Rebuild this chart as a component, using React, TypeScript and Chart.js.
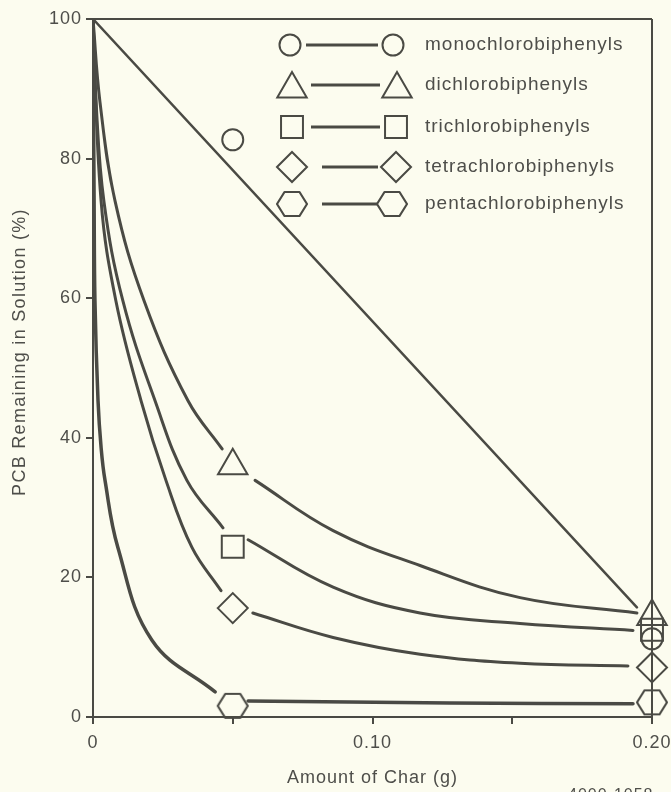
import React, { useEffect, useRef } from 'react';
import { Chart, registerables } from 'chart.js';

Chart.register(...registerables);

// ---------- data ----------
const seriesNames = [
  'monochlorobiphenyls',
  'dichlorobiphenyls',
  'trichlorobiphenyls',
  'tetrachlorobiphenyls',
  'pentachlorobiphenyls',
];
const markerX = [0.05, 0.2];
const monoMarks = [82.7, 11.2];
const diMarks = [36.0, 14.4];
const triMarks = [24.4, 12.5];
const tetraMarks = [15.6, 7.1];
const pentaMarks = [1.6, 2.1];

// fitted curves (null = break around the marker)
const monoLineX = [0, 0.1946];
const monoLineY = [100, 15.7];

const diCurveX = [0, 0.0025, 0.0079, 0.0183, 0.034, 0.0462, 0.052, 0.058, 0.0859, 0.117, 0.1528, 0.1946];
const diCurveY = [100, 88.1, 73.9, 59.6, 45.3, 38.4, null, 33.9, 26.7, 21.7, 17.1, 14.9];

const triCurveX = [0, 0.0011, 0.0039, 0.0107, 0.0222, 0.0336, 0.0465, 0.051, 0.0555, 0.0859, 0.117, 0.1528, 0.1932];
const triCurveY = [100, 88.1, 73.9, 59.6, 45.3, 33.9, 27.1, null, 25.4, 18.6, 14.9, 13.4, 12.4];

const tetraCurveX = [0, 0.0029, 0.0082, 0.0172, 0.0261, 0.0354, 0.0458, 0.052, 0.0572, 0.0859, 0.117, 0.1528, 0.1914];
const tetraCurveY = [100, 73.9, 59.6, 45.3, 33.9, 24.3, 18.1, null, 14.9, 11.4, 9.0, 7.7, 7.3];

const pentaCurveX = [0, 0.0004, 0.0007, 0.0018, 0.0029, 0.0043, 0.0089, 0.0211, 0.0437, 0.05, 0.0555, 0.1277, 0.1932];
const pentaCurveY = [100, 73.9, 59.6, 45.3, 38.6, 33.9, 24.3, 11, 3.6, null, 2.3, 2.0, 1.9];

const xTickLabels: Record<string, string> = { '0': '0', '0.1': '0.10', '0.2': '0.20' };
const yTickStep = 20;
const xTitle = 'Amount of Char (g)';
const yTitle = 'PCB Remaining in Solution (%)';
const figureNumber = '4000-1058';

// ---------- styles ----------
const STROKE = '#4a4a44';
const TEXT = '#4e4e4a';
const BG = '#fcfcef';
const FONT = '"Liberation Sans", Arial, Helvetica, sans-serif';

function makeHexagon(): HTMLCanvasElement {
  const c = document.createElement('canvas');
  c.width = 34;
  c.height = 30;
  const g = c.getContext('2d') as CanvasRenderingContext2D;
  g.strokeStyle = STROKE;
  g.lineWidth = 2.2;
  g.lineJoin = 'round';
  g.beginPath();
  g.moveTo(2, 15);
  g.lineTo(9.5, 3);
  g.lineTo(24.5, 3);
  g.lineTo(32, 15);
  g.lineTo(24.5, 27);
  g.lineTo(9.5, 27);
  g.closePath();
  g.stroke();
  return c;
}

const pts = (xs: number[], ys: (number | null)[]) => xs.map((x, i) => ({ x, y: ys[i] }));

export default function App() {
  const ref = useRef<HTMLCanvasElement | null>(null);

  useEffect(() => {
    if (!ref.current) return;
    const hex = makeHexagon();
    const styles: any[] = ['circle', 'triangle', 'rect', 'rectRot', hex];
    const radii = [10.5, 17, 15.5, 15, 15];
    const marks = [monoMarks, diMarks, triMarks, tetraMarks, pentaMarks];

    const curveBase = {
      borderColor: STROKE,
      borderWidth: 3,
      pointRadius: 0,
      tension: 0.4,
      spanGaps: false,
      fill: false,
      borderCapStyle: 'round' as const,
    };

    const datasets: any[] = [
      { ...curveBase, label: 'mono line', data: pts(monoLineX, monoLineY), borderWidth: 2.5, tension: 0 },
      { ...curveBase, label: 'di curve', data: pts(diCurveX, diCurveY) },
      { ...curveBase, label: 'tri curve', data: pts(triCurveX, triCurveY) },
      { ...curveBase, label: 'tetra curve', data: pts(tetraCurveX, tetraCurveY) },
      { ...curveBase, label: 'penta curve', data: pts(pentaCurveX, pentaCurveY), borderWidth: 3.5 },
    ];
    marks.forEach((m, i) => {
      datasets.push({
        label: seriesNames[i],
        data: pts(markerX, m),
        showLine: false,
        pointStyle: styles[i],
        pointRadius: radii[i],
        pointBorderColor: STROKE,
        pointBackgroundColor: 'transparent',
        pointBorderWidth: 2,
        clip: false,
      });
    });

    const drawMarker = (ctx: CanvasRenderingContext2D, i: number, x: number, y: number) => {
      const r = radii[i];
      ctx.save();
      ctx.strokeStyle = STROKE;
      ctx.lineWidth = 2;
      ctx.beginPath();
      if (i === 0) {
        ctx.arc(x, y, r, 0, Math.PI * 2);
      } else if (i === 1) {
        for (let k = 0; k < 3; k++) {
          const a = (k * 2 * Math.PI) / 3;
          const px = x + Math.sin(a) * r;
          const py = y - Math.cos(a) * r;
          if (k === 0) ctx.moveTo(px, py);
          else ctx.lineTo(px, py);
        }
        ctx.closePath();
      } else if (i === 2) {
        const s = r * Math.SQRT1_2;
        ctx.rect(x - s, y - s, 2 * s, 2 * s);
      } else if (i === 3) {
        ctx.moveTo(x - r, y);
        ctx.lineTo(x, y - r);
        ctx.lineTo(x + r, y);
        ctx.lineTo(x, y + r);
        ctx.closePath();
      } else {
        ctx.drawImage(hex, x - hex.width / 2, y - hex.height / 2);
      }
      ctx.stroke();
      ctx.restore();
    };

    const legendRowsY = [45, 85, 127, 167, 204];
    const legendLeftX = [290, 292, 292, 292, 292];
    const legendRightX = [393, 397, 396, 396, 392];
    const legendLine = [
      [306, 378],
      [311, 380],
      [311, 380],
      [322, 378],
      [322, 378],
    ];

    const decor = {
      id: 'decor',
      beforeLayout(chart: any) {
        chart.ctx.letterSpacing = '1px';
      },
      beforeDraw(chart: any) {
        const ctx = chart.ctx;
        ctx.save();
        ctx.fillStyle = BG;
        ctx.fillRect(0, 0, chart.width, chart.height);
        ctx.restore();
        ctx.letterSpacing = '1px';
      },
      afterDraw(chart: any) {
        const ctx = chart.ctx as CanvasRenderingContext2D;
        const { left, right, top, bottom } = chart.chartArea;
        ctx.save();
        ctx.strokeStyle = STROKE;
        ctx.lineWidth = 2;
        ctx.beginPath();
        ctx.moveTo(left, top);
        ctx.lineTo(right, top);
        ctx.moveTo(right, top);
        ctx.lineTo(right, bottom);
        ctx.stroke();

        // legend
        seriesNames.forEach((name, i) => {
          const y = legendRowsY[i];
          drawMarker(ctx, i, legendLeftX[i], y + (i === 1 ? 4 : 0));
          drawMarker(ctx, i, legendRightX[i], y + (i === 1 ? 4 : 0));
          ctx.strokeStyle = STROKE;
          ctx.lineWidth = 3;
          ctx.beginPath();
          ctx.moveTo(legendLine[i][0], y);
          ctx.lineTo(legendLine[i][1], y);
          ctx.stroke();
          ctx.fillStyle = TEXT;
          ctx.font = `19px ${FONT}`;
          (ctx as any).letterSpacing = '1px';
          ctx.textAlign = 'left';
          ctx.textBaseline = 'middle';
          ctx.fillText(name, 425, y);
        });

        // y axis title
        ctx.save();
        ctx.translate(20, 352);
        ctx.rotate(-Math.PI / 2);
        ctx.fillStyle = TEXT;
        ctx.font = `18px ${FONT}`;
        (ctx as any).letterSpacing = '1.3px';
        ctx.textAlign = 'center';
        ctx.textBaseline = 'middle';
        ctx.fillText(yTitle, 0, 0);
        ctx.restore();

        // cropped figure number at the bottom edge
        ctx.fillStyle = TEXT;
        ctx.font = `16px ${FONT}`;
        ctx.textAlign = 'left';
        ctx.textBaseline = 'top';
        ctx.fillText(figureNumber, 568, 788);
        ctx.restore();
      },
    };

    const chart = new Chart(ref.current, {
      type: 'line',
      data: { datasets },
      options: {
        animation: false,
        responsive: false,
        devicePixelRatio: 1,
        layout: { padding: { top: 17, right: 19, left: 0, bottom: 0 } },
        plugins: { legend: { display: false }, tooltip: { enabled: false } },
        scales: {
          x: {
            type: 'linear',
            min: 0,
            max: 0.2,
            afterFit: (s: any) => {
              s.height = 75;
              s.paddingLeft = 0;
              s.paddingRight = 0;
            },
            ticks: {
              stepSize: 0.05,
              autoSkip: false,
              maxRotation: 0,
              padding: 8,
              color: TEXT,
              font: { family: FONT, size: 18 },
              callback: (v: any) => {
                const k = String(Math.round(Number(v) * 100) / 100);
                return xTickLabels[k] ?? '';
              },
            },
            grid: { drawOnChartArea: false, drawTicks: true, tickLength: 7, color: STROKE, lineWidth: 2 },
            border: { display: true, color: STROKE, width: 2 },
            title: {
              display: true,
              text: xTitle,
              color: TEXT,
              font: { family: FONT, size: 18 },
              padding: { top: 0, bottom: 3 },
            },
          },
          y: {
            type: 'linear',
            min: 0,
            max: 100,
            afterFit: (s: any) => {
              s.width = 93;
              s.paddingTop = 0;
              s.paddingBottom = 0;
            },
            ticks: {
              stepSize: yTickStep,
              padding: 4,
              color: TEXT,
              font: { family: FONT, size: 18 },
            },
            grid: { drawOnChartArea: false, drawTicks: true, tickLength: 7, color: STROKE, lineWidth: 2 },
            border: { display: true, color: STROKE, width: 2 },
            title: { display: false },
          },
        },
      },
      plugins: [decor],
    });
    return () => chart.destroy();
  }, []);

  return (
    <div style={{ position: 'fixed', left: 0, top: 0, width: 671, height: 792, background: BG }}>
      <canvas ref={ref} width={671} height={792} style={{ display: 'block' }} />
    </div>
  );
}
